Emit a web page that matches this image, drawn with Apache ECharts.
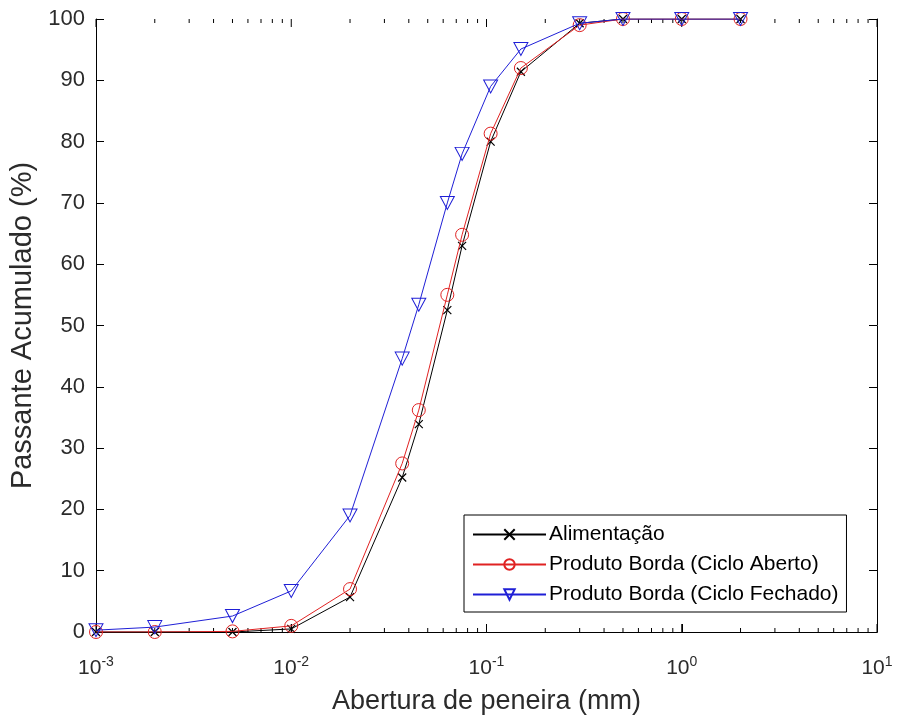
<!DOCTYPE html>
<html>
<head>
<meta charset="utf-8">
<script src="https://cdn.jsdelivr.net/npm/echarts@6/dist/echarts.min.js"></script>
<style>
  html, body { margin: 0; padding: 0; background: #fff; }
  #chart { width: 899px; height: 720px; }
</style>
</head>
<body>
<div id="chart"></div>
<script>
// sieve openings (mm)
const aberturas = [0.001, 0.002, 0.005, 0.01, 0.02, 0.037, 0.045, 0.063, 0.075, 0.105, 0.15, 0.3, 0.5, 1, 2]
const alimentacao = [0, 0, 0, 0.5, 5.7, 25.2, 33.9, 52.5, 63, 80, 91.4, 99.3, 100, 100, 100]
const cicloAberto = [0, 0, 0.1, 1, 7, 27.5, 36.2, 55, 64.8, 81.3, 92, 99, 100, 100, 100]
const cicloFechado = [0.3, 0.8, 2.6, 6.7, 19, 44.6, 53.4, 70, 78, 89, 95.1, 99.3, 100, 100, 100]
const decades = [0.001, 0.01, 0.1, 1, 10]

// log-axis ticks: [value, length]
const xTicks = []
decades.forEach((d, i) => {
  xTicks.push([d, 8])
  if (i < decades.length - 1) {
    for (let k = 2; k <= 9; k++) xTicks.push([+(d * k).toPrecision(3), 4])
  }
})

const fontFamily = 'Liberation Sans, Arial, sans-serif'
const labelColor = '#2b2b2b'
const black = '#000000'
const red = '#e02222'
const blue = '#1f1fd6'

const toPairs = (ys) => aberturas.map((x, i) => [x, ys[i]])

const chart = echarts.init(document.getElementById('chart'))

const logLabel = {
  fontFamily: fontFamily,
  color: labelColor,
  margin: 23,
  formatter: (v) => '{b|10}{s|' + Math.round(Math.log10(v)) + '}',
  rich: {
    b: { fontSize: 21, fontFamily: fontFamily, color: labelColor, verticalAlign: 'bottom', lineHeight: 24 },
    s: { fontSize: 14, fontFamily: fontFamily, color: labelColor, verticalAlign: 'top', lineHeight: 24 }
  }
}

const tickStyle = { show: true, inside: true, length: 8, lineStyle: { color: black, width: 1 } }
const lineAxis = { show: true, lineStyle: { color: black, width: 1 } }

const options = {
  animation: false,
  backgroundColor: '#ffffff',
  grid: { left: 96, right: 22, top: 19, bottom: 87, containLabel: false },
  legend: {
    orient: 'vertical',
    left: 464,
    top: 515,
    itemWidth: 73,
    itemHeight: 13,
    itemGap: 9,
    padding: [9, 8, 7, 8],
    backgroundColor: '#ffffff',
    borderColor: black,
    borderWidth: 1,
    borderRadius: 0,
    textStyle: { fontFamily: fontFamily, fontSize: 21, color: black, padding: [0, 0, 0, -2] },
    data: ['Alimentação', 'Produto Borda (Ciclo Aberto)', 'Produto Borda (Ciclo Fechado)']
  },
  xAxis: [{
    type: 'log',
    logBase: 10,
    min: 0.001,
    max: 10,
    name: 'Abertura de peneira (mm)',
    nameLocation: 'middle',
    nameGap: 56,
    nameTextStyle: { fontFamily: fontFamily, fontSize: 27, color: labelColor },
    axisLine: lineAxis,
    axisTick: tickStyle,
    axisLabel: logLabel,
    splitLine: { show: false }
  }, {
    type: 'log',
    logBase: 10,
    min: 0.001,
    max: 10,
    position: 'top',
    axisLine: lineAxis,
    axisTick: { show: false },
    axisLabel: { show: false },
    splitLine: { show: false }
  }],
  yAxis: [{
    type: 'value',
    min: 0,
    max: 100,
    interval: 10,
    name: 'Passante Acumulado (%)',
    nameLocation: 'middle',
    nameGap: 56,
    nameTextStyle: { fontFamily: fontFamily, fontSize: 29, color: labelColor },
    axisLine: lineAxis,
    axisTick: tickStyle,
    axisLabel: { fontFamily: fontFamily, fontSize: 22, color: labelColor, margin: 11 },
    splitLine: { show: false }
  }, {
    type: 'value',
    min: 0,
    max: 100,
    interval: 10,
    position: 'right',
    axisLine: lineAxis,
    axisTick: tickStyle,
    axisLabel: { show: false },
    splitLine: { show: false }
  }],
  series: [{
    name: 'ticks',
    type: 'custom',
    silent: true,
    clip: false,
    z: 1,
    data: xTicks,
    renderItem: (params, api) => {
      const len = api.value(1)
      const bottom = api.coord([api.value(0), 0])
      const top = api.coord([api.value(0), 100])
      return {
        type: 'group',
        children: [{
          type: 'line',
          shape: { x1: bottom[0], y1: bottom[1], x2: bottom[0], y2: bottom[1] - len },
          style: { stroke: black, lineWidth: 1 }
        }, {
          type: 'line',
          shape: { x1: top[0], y1: top[1], x2: top[0], y2: top[1] + len },
          style: { stroke: black, lineWidth: 1 }
        }]
      }
    }
  }, {
    name: 'Alimentação',
    type: 'line',
    data: toPairs(alimentacao),
    symbol: 'path://M0,0 L10,10 M10,0 L0,10',
    symbolSize: 8,
    showAllSymbol: true,
    color: black,
    lineStyle: { color: black, width: 1 },
    itemStyle: { color: 'transparent', borderColor: black, borderWidth: 1.2 },
    z: 3
  }, {
    name: 'Produto Borda (Ciclo Aberto)',
    type: 'line',
    data: toPairs(cicloAberto),
    symbol: 'circle',
    symbolSize: 13,
    showAllSymbol: true,
    color: red,
    lineStyle: { color: red, width: 1 },
    itemStyle: { color: 'transparent', borderColor: red, borderWidth: 1 },
    z: 4
  }, {
    name: 'Produto Borda (Ciclo Fechado)',
    type: 'line',
    data: toPairs(cicloFechado),
    symbol: 'path://M0,0 L12,0 L6,11 Z',
    symbolSize: [14, 13],
    showAllSymbol: true,
    color: blue,
    lineStyle: { color: blue, width: 1 },
    itemStyle: { color: 'transparent', borderColor: blue, borderWidth: 1 },
    z: 5
  }]
}
chart.setOption(options)
</script>
</body>
</html>
